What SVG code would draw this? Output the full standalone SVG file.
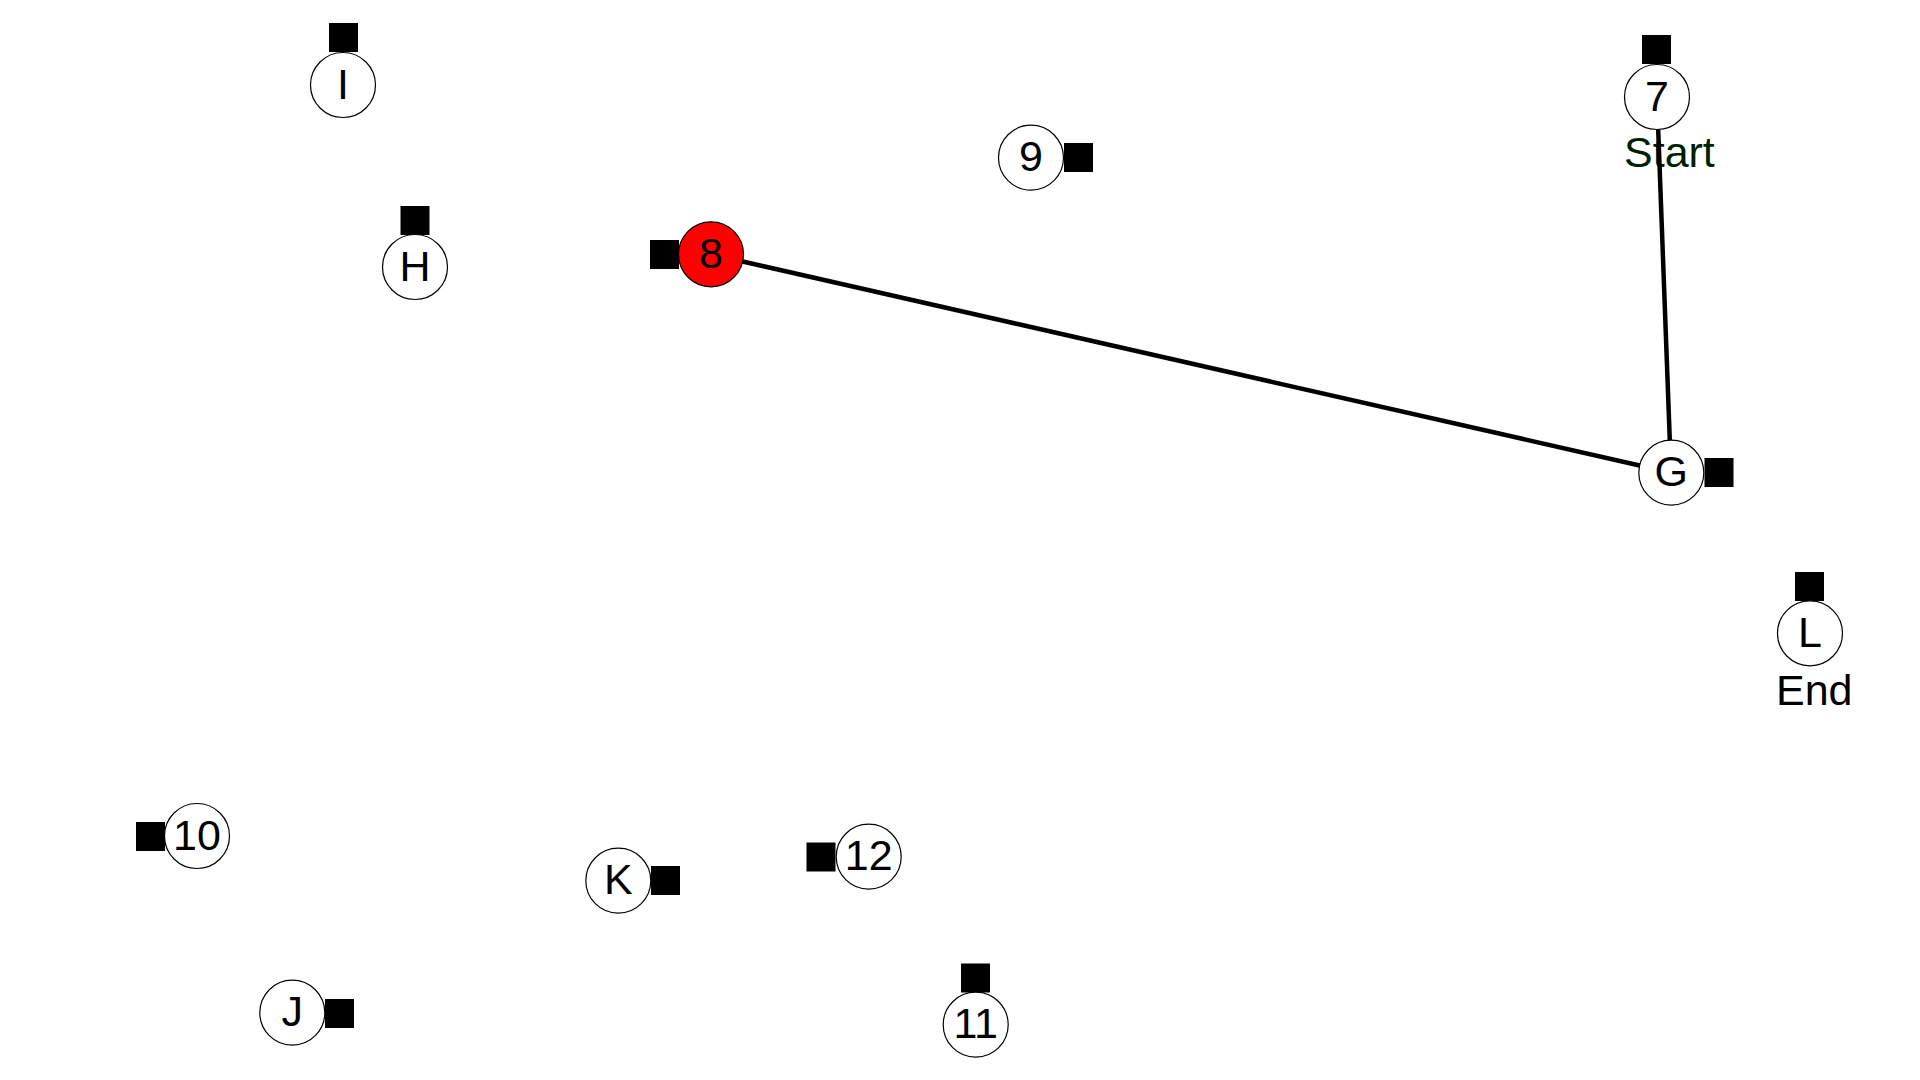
<svg xmlns="http://www.w3.org/2000/svg" width="1920" height="1080" viewBox="0 0 1920 1080">
<style>
  .n { fill: #ffffff; stroke: #000000; stroke-width: 1.2; }
  .hot { fill: #ff0000; }
  .sq { fill: #000000; }
  .t { font-family: "Liberation Sans", Arial, sans-serif; font-size: 43px; fill: #000000; text-anchor: middle; dominant-baseline: central; }
  .lbl { font-family: "Liberation Sans", Arial, sans-serif; font-size: 43px; fill: #000000; }
  .e { stroke: #000000; stroke-width: 4.5; fill: none; }
</style>
<rect width="1920" height="1080" fill="#ffffff"/>
<g id="node-I">
  <rect class="sq" x="329" y="23" width="29" height="29"/>
  <circle class="n" cx="343" cy="85" r="32.5"/>
  <text class="t" x="343" y="83.5">I</text>
</g>
<g id="node-H">
  <rect class="sq" x="400.5" y="206" width="29" height="29"/>
  <circle class="n" cx="415" cy="267" r="32.5"/>
  <text class="t" x="415" y="265.5">H</text>
</g>
<g id="node-8">
  <rect class="sq" x="650" y="240" width="29" height="29"/>
  <circle class="n hot" cx="711" cy="254.3" r="32.5"/>
  <text class="t" x="711" y="252.8">8</text>
</g>
<g id="node-9">
  <rect class="sq" x="1064" y="143" width="29" height="29"/>
  <circle class="n" cx="1031" cy="157.7" r="32.5"/>
  <text class="t" x="1031" y="156.2">9</text>
</g>
<g id="node-7">
  <rect class="sq" x="1642" y="35" width="29" height="29"/>
  <circle class="n" cx="1657" cy="97" r="32.5"/>
  <text class="t" x="1657" y="95.5">7</text>
  <text class="lbl" x="1624" y="167" style="fill:#001f00">Start</text>
</g>
<g id="node-G">
  <rect class="sq" x="1704.5" y="458" width="29" height="29"/>
  <circle class="n" cx="1671.3" cy="472.7" r="32.5"/>
  <text class="t" x="1671.3" y="471.2">G</text>
</g>
<g id="node-L">
  <rect class="sq" x="1795" y="572" width="29" height="29"/>
  <circle class="n" cx="1810" cy="633.3" r="32.5"/>
  <text class="t" x="1810" y="631.8">L</text>
  <text class="lbl" x="1776" y="705">End</text>
</g>
<g id="node-10">
  <rect class="sq" x="136" y="822" width="29" height="29"/>
  <circle class="n" cx="197" cy="836" r="32.5"/>
  <text class="t" x="197" y="834.5">10</text>
</g>
<g id="node-K">
  <rect class="sq" x="651" y="866" width="29" height="29"/>
  <circle class="n" cx="618.3" cy="880.7" r="32.5"/>
  <text class="t" x="618.3" y="879.2">K</text>
</g>
<g id="node-12">
  <rect class="sq" x="806.5" y="842.5" width="29" height="29"/>
  <circle class="n" cx="868.7" cy="856.7" r="32.5"/>
  <text class="t" x="868.7" y="855.2">12</text>
</g>
<g id="node-J">
  <rect class="sq" x="325" y="999" width="29" height="29"/>
  <circle class="n" cx="292.3" cy="1012.7" r="32.5"/>
  <text class="t" x="292.3" y="1011.2">J</text>
</g>
<g id="node-11">
  <rect class="sq" x="961" y="963.5" width="29" height="29"/>
  <circle class="n" cx="975.7" cy="1024.7" r="32.5"/>
  <text class="t" x="975.7" y="1023.2">11</text>
</g>
<g id="connectors">
  <line class="e" x1="742.7" y1="261.5" x2="1639.6" y2="465.5"/>
  <line class="e" x1="1658.2" y1="129.5" x2="1669.8" y2="440.2"/>
</g>
</svg>
